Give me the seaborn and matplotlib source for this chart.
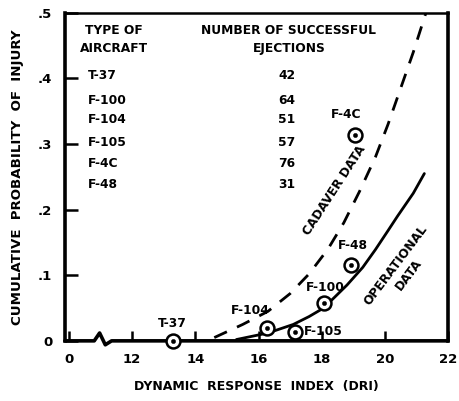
import matplotlib
matplotlib.use("Agg")
import matplotlib.pyplot as plt
import seaborn as sns
import pandas as pd

# table in the upper left
aircraft = ["T-37", "F-100", "F-104", "F-105", "F-4C", "F-48"]
ejections = [42, 64, 51, 57, 76, 31]

# data points (DRI, cumulative probability of injury)
pt_names = ["T-37", "F-104", "F-105", "F-100", "F-48", "F-4C"]
pt_dri = [13.3, 16.27, 17.15, 18.07, 18.93, 19.07]
pt_prob = [0.0, 0.020, 0.014, 0.058, 0.116, 0.314]

# curves
cadaver_dri = [14.6, 15.5, 16.3, 17.0, 17.6, 18.2, 18.7, 19.2, 19.7, 20.1, 20.5, 20.9, 21.3]
cadaver_prob = [0.005, 0.025, 0.045, 0.072, 0.102, 0.14, 0.18, 0.228, 0.28, 0.33, 0.385, 0.44, 0.5]
oper_dri = [15.3, 16.3, 17.1, 17.6, 18.06, 18.8, 19.3, 19.7, 20.1, 20.4, 20.9, 21.25]
oper_prob = [0.002, 0.012, 0.025, 0.037, 0.05, 0.085, 0.112, 0.139, 0.168, 0.19, 0.225, 0.255]

xticks = [10, 12, 14, 16, 18, 20, 22]
xticklabels = ["0", "12", "14", "16", "18", "20", "22"]
yticks = [0, 0.1, 0.2, 0.3, 0.4, 0.5]
yticklabels = ["0", ".1", ".2", ".3", ".4", ".5"]

sns.set_style("white")
plt.rcParams["font.family"] = ["DejaVu Sans"]
plt.rcParams["font.weight"] = "bold"
for key in ["text.color", "axes.labelcolor", "xtick.color", "ytick.color"]:
    plt.rcParams[key] = "black"
plt.rcParams.update({
    "xtick.bottom": True, "ytick.left": True,
    "xtick.direction": "in", "ytick.direction": "in",
    "xtick.major.size": 7, "ytick.major.size": 9,
    "xtick.major.width": 1.8, "ytick.major.width": 1.8,
    "xtick.major.pad": 9, "ytick.major.pad": 9,
    "xtick.labelsize": 9.5, "ytick.labelsize": 9.5,
})

fig = plt.figure(figsize=(4.6, 4.01), dpi=100)
ax = fig.add_axes([0.141, 0.150, 0.833, 0.818])

cad = pd.DataFrame({"dri": cadaver_dri, "p": cadaver_prob})
ope = pd.DataFrame({"dri": oper_dri, "p": oper_prob})
pts = pd.DataFrame({"name": pt_names, "dri": pt_dri, "p": pt_prob})

sns.lineplot(data=cad, x="dri", y="p", ax=ax, color="black", lw=2.0,
             sort=False, linestyle=(0, (5, 4)))
sns.lineplot(data=ope, x="dri", y="p", ax=ax, color="black", lw=2.0, sort=False)
sns.scatterplot(data=pts, x="dri", y="p", ax=ax, s=100, marker="o",
                facecolor="white", edgecolor="black", linewidth=1.8, zorder=5, clip_on=False)
sns.scatterplot(data=pts, x="dri", y="p", ax=ax, s=10, color="black",
                edgecolor="black", zorder=6, clip_on=False)

ax.set_xlim(9.87, 22)
ax.set_ylim(0, 0.5)

# broken bottom axis
ax.spines["bottom"].set_visible(False)
brk_x = [9.87, 10.8, 10.97, 11.15, 11.35, 22]
brk_y = [0, 0, 0.012, -0.006, 0, 0]
ax.plot(brk_x, brk_y, color="black", lw=2.6, clip_on=False, zorder=4)
for side in ["left", "right"]:
    ax.spines[side].set_linewidth(2.6)
    ax.spines[side].set_color("black")
ax.spines["top"].set_linewidth(1.8)
ax.spines["top"].set_color("black")

ax.set_xticks(xticks)
ax.set_xticklabels(xticklabels)
ax.set_yticks(yticks)
ax.set_yticklabels(yticklabels)
for t in ax.get_xticklabels() + ax.get_yticklabels():
    t.set_fontweight("bold")

ax.set_xlabel("DYNAMIC  RESPONSE  INDEX  (DRI)", fontsize=9, fontweight="bold", labelpad=10)
ax.set_ylabel("CUMULATIVE  PROBABILITY  OF  INJURY", fontsize=9.6, fontweight="bold", labelpad=10)

fs = 8.8
ax.text(11.43, 0.46, "TYPE OF\nAIRCRAFT", ha="center", va="center", fontsize=fs,
        fontweight="bold", linespacing=1.5)
ax.text(16.96, 0.46, "NUMBER OF SUCCESSFUL\nEJECTIONS", ha="center", va="center",
        fontsize=fs, fontweight="bold", linespacing=1.5)
row_y = [0.404, 0.367, 0.337, 0.302, 0.271, 0.239]
for name, n, y in zip(aircraft, ejections, row_y):
    ax.text(10.6, y, name, ha="left", va="center", fontsize=fs, fontweight="bold")
    ax.text(16.9, y, str(n), ha="center", va="center", fontsize=fs, fontweight="bold")

ax.text(13.27, 0.026, "T-37", ha="center", va="center", fontsize=fs, fontweight="bold")
ax.text(15.73, 0.047, "F-104", ha="center", va="center", fontsize=fs, fontweight="bold")
ax.text(17.45, 0.014, "F-105", ha="left", va="center", fontsize=fs, fontweight="bold")
ax.text(18.1, 0.081, "F-100", ha="center", va="center", fontsize=fs, fontweight="bold")
ax.text(19.0, 0.146, "F-48", ha="center", va="center", fontsize=fs, fontweight="bold")
ax.text(18.76, 0.345, "F-4C", ha="center", va="center", fontsize=fs, fontweight="bold")

ax.text(18.4, 0.229, "CADAVER DATA", rotation=57, ha="center", va="center",
        fontsize=fs, fontweight="bold", rotation_mode="anchor")
ax.text(20.55, 0.108, "OPERATIONAL\nDATA", rotation=53, ha="center", va="center",
        fontsize=fs, fontweight="bold", rotation_mode="anchor", linespacing=1.3)

fig.savefig("out.png", dpi=100)
